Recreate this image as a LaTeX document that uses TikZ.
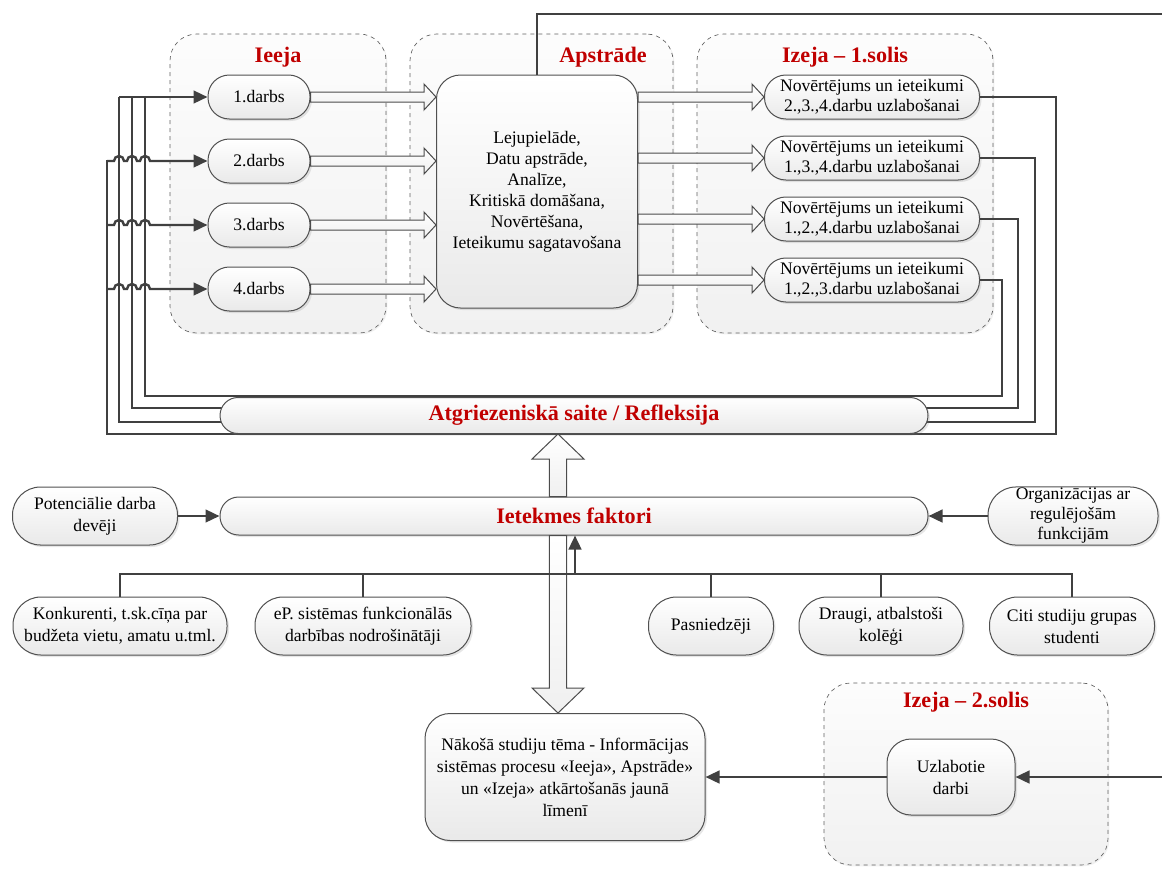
\documentclass[tikz,border=0pt]{standalone}
\usepackage{fontspec}
\setmainfont{Liberation Serif}
\usepackage{tikz}
\usetikzlibrary{positioning,calc,arrows.meta,shapes.misc,shadows}

\definecolor{linegray}{HTML}{404040}
\definecolor{edgegray}{HTML}{505050}
\definecolor{titlered}{HTML}{C00000}

\begin{document}
\begin{tikzpicture}[
    x=0.75pt, y=-0.75pt,
    every node/.style={font=\fontsize{13.2}{16.5}\selectfont},
    pill/.style={
        rectangle, rounded corners=#1, draw=edgegray, line width=0.75pt,
        top color=white, bottom color=gray!17, align=center, inner sep=1pt,
        drop shadow={shadow xshift=1.5pt, shadow yshift=-1.5pt, opacity=0.2}
    },
    pill/.default=16pt,
    groupbox/.style={
        rectangle, rounded corners=20pt, draw=gray!75!black, dashed, line width=0.5pt,
        top color=gray!2, bottom color=gray!11, inner sep=0pt,
        drop shadow={shadow xshift=1pt, shadow yshift=-1pt, opacity=0.12}
    },
    grouptitle/.style={font=\fontsize{16.6}{18}\selectfont\bfseries, text=titlered},
    link/.style={draw=linegray, line width=1.8pt},
    tip/.style={-{Triangle[length=10.5pt,width=9.5pt]}},
    fatarrow/.style n args={3}{
        draw=gray!60!black, line width=0.75pt, top color=white, bottom color=gray!12,
        to path={
            ($(\tikztostart)!#1!90:(\tikztotarget)$)
            -- ($(\tikztotarget)!#3!(\tikztostart)!#1!90:(\tikztotarget)$)
            -- ($(\tikztotarget)!#3!(\tikztostart)!#2!90:(\tikztotarget)$)
            -- (\tikztotarget)
            -- ($(\tikztotarget)!#3!(\tikztostart)!#2!-90:(\tikztotarget)$)
            -- ($(\tikztotarget)!#3!(\tikztostart)!#1!-90:(\tikztotarget)$)
            -- ($(\tikztostart)!#1!-90:(\tikztotarget)$) -- cycle
        }
    },
    thin arrow/.style={fatarrow={3.75pt}{9.75pt}{9pt}},
    wide arrow/.style={fatarrow={6.4pt}{19.5pt}{18.75pt}}
]

\useasboundingbox (0,0) rectangle (1162,868);

% Groups
\node[groupbox, minimum width=162pt, minimum height=224.25pt] (gIn) at (278,183.5) {};
\node[groupbox, minimum width=197.25pt, minimum height=224.25pt] (gProc) at (541.5,183.5) {};
\node[groupbox, minimum width=222pt, minimum height=224.25pt] (gOut) at (845,183.5) {};
\node[groupbox, minimum width=213pt, minimum height=136.5pt] (gOut2) at (966,774) {};

\node[grouptitle] (tIn) at (278,57) {Ieeja};
\node[grouptitle] (tProc) at (603,57) {Apstrāde};
\node[grouptitle] (tOut) at (845,57) {Izeja – 1.solis};
\node[grouptitle] (tOut2) at (966,702) {Izeja – 2.solis};

% Ieeja
\node[pill, minimum width=76.5pt, minimum height=33pt] (in1) at (259,97) {1.darbs};
\node[pill, minimum width=76.5pt, minimum height=33pt, below=14.25pt of in1] (in2) {2.darbs};
\node[pill, minimum width=76.5pt, minimum height=33pt, below=14.25pt of in2] (in3) {3.darbs};
\node[pill, minimum width=76.5pt, minimum height=33pt, below=14.25pt of in3] (in4) {4.darbs};

% Apstrade
\node[pill=18pt, minimum width=150.75pt, minimum height=174.75pt,
      font=\fontsize{13.2}{15.75}\selectfont] (proc) at (537,191.5)
    {Lejupielāde,\\ Datu apstrāde,\\ Analīze,\\ Kritiskā domāšana,\\ Novērtēšana,\\ Ieteikumu sagatavošana};

% Izeja 1
\node[pill, minimum width=161.25pt, minimum height=33pt, font=\fontsize{13.2}{15}\selectfont] (out1) at (872,97)
    {Novērtējums un ieteikumi\\ 2.,3.,4.darbu uzlabošanai};
\node[pill, minimum width=161.25pt, minimum height=33pt, font=\fontsize{13.2}{15}\selectfont, below=12pt of out1] (out2)
    {Novērtējums un ieteikumi\\ 1.,3.,4.darbu uzlabošanai};
\node[pill, minimum width=161.25pt, minimum height=33pt, font=\fontsize{13.2}{15}\selectfont, below=12pt of out2] (out3)
    {Novērtējums un ieteikumi\\ 1.,2.,4.darbu uzlabošanai};
\node[pill, minimum width=161.25pt, minimum height=33pt, font=\fontsize{13.2}{15}\selectfont, below=12pt of out3] (out4)
    {Novērtējums un ieteikumi\\ 1.,2.,3.darbu uzlabošanai};

\foreach \n in {in1,in2,in3,in4}
    \draw[thin arrow] (\n.east) to (\n.east -| proc.west);
\foreach \n in {out1,out2,out3,out4}
    \draw[thin arrow] (proc.east |- \n.west) to (\n.west);

% Feedback loops
\coordinate (lx) at (107,0);
\coordinate (rx) at (119,0);
\foreach \o/\xr/\yh/\xl/\yt in {out1/1056/434/107/160, out2/1035/422/119/97,
                                 out3/1018/408/132/97, out4/1002/396/145/97}
{
    \draw[link] (\o.east) -| (\xr,\yh) -| (\xl,\yt);
}
\draw[link, tip] (in1.west -| rx) -- (in1.west);
\foreach \n in {in2,in3,in4}
{
    \draw[link, tip] (\n.west -| lx) -- ++(7,0)
        arc[start angle=180, end angle=0, radius=3.75pt] -- ++(3,0)
        arc[start angle=180, end angle=0, radius=3.75pt] -- ++(3,0)
        arc[start angle=180, end angle=0, radius=3.75pt] -- (\n.west);
}

\node[pill=13.5pt, minimum width=531pt, minimum height=27pt, grouptitle] (fb) at (574,415.5)
    {Atgriezeniskā saite / Refleksija};

% Influence factors
\node[pill=14pt, minimum width=531pt, minimum height=28.5pt, grouptitle] (ief) at (574,516)
    {Ietekmes faktori};
\node[pill=21pt, minimum width=123.75pt, minimum height=43.5pt] (pot) at (95,516)
    {Potenciālie darba\\ devēji};
\node[pill=21pt, minimum width=127.5pt, minimum height=43.5pt, font=\fontsize{13.2}{15}\selectfont] (org) at (1073,516)
    {Organizācijas ar\\ regulējošām\\ funkcijām};

\node[pill=21pt, minimum width=160.5pt, minimum height=43.5pt] (konk) at (120,626)
    {Konkurenti, t.sk.cīņa par\\ budžeta vietu, amatu u.tml.};
\node[pill=21pt, minimum width=162pt, minimum height=43.5pt] (ep) at (363,626)
    {eP. sistēmas funkcionālās\\ darbības nodrošinātāji};
\node[pill=21pt, minimum width=93.75pt, minimum height=43.5pt] (pasn) at (711,626) {Pasniedzēji};
\node[pill=21pt, minimum width=123pt, minimum height=43.5pt] (draugi) at (881,626)
    {Draugi, atbalstoši\\ kolēģi};
\node[pill=21pt, minimum width=123.75pt, minimum height=43.5pt] (citi) at (1072,626)
    {Citi studiju grupas\\ studenti};

% Next step
\node[pill=18.75pt, minimum width=210pt, minimum height=95.25pt] (nak) at (565,777)
    {Nākošā studiju tēma - Informācijas\\ sistēmas procesu «Ieeja», Apstrāde»\\ un «Izeja» atkārtošanās jaunā\\ līmenī};
\node[pill=18pt, minimum width=96pt, minimum height=57pt] (uzl) at (951,777) {Uzlabotie\\ darbi};

\coordinate (fx) at (558,0);
\draw[wide arrow] (ief.north -| fx) to (fb.south -| fx);
\draw[wide arrow] (ief.south -| fx) to (nak.north -| fx);

\coordinate (bus) at (575,574);
\coordinate (topend) at (1162,14);
\coordinate (rightin) at (1162,777);

\draw[link, tip] (pot.east) -- (ief.west);
\draw[link, tip] (org.west) -- (ief.east);
\foreach \n in {konk,ep,pasn,draugi,citi}
    \draw[link] (\n.north) |- (bus);
\draw[link, tip] (bus) -- (ief.south -| bus);

\draw[link] (proc.north) |- (topend);
\draw[link, tip] (rightin) -- (uzl.east);
\draw[link, tip] (uzl.west) -- (nak.east);

\end{tikzpicture}
\end{document}
